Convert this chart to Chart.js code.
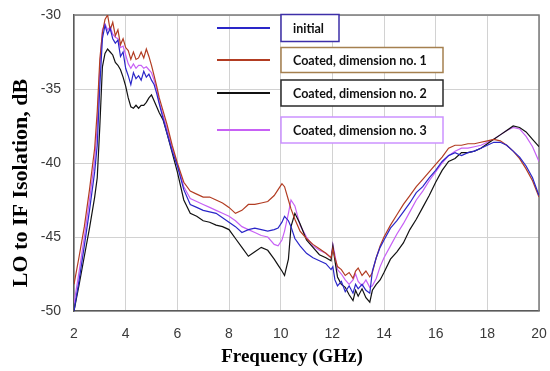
<!DOCTYPE html>
<html>
<head>
<meta charset="utf-8">
<script src="https://cdn.jsdelivr.net/npm/chart.js@4.4.1/dist/chart.umd.min.js"></script>
<style>
html,body{margin:0;padding:0;background:#fff;}
#wrap{width:550px;height:371px;}
</style>
</head>
<body>
<div id="wrap"><canvas id="c" width="550" height="371"></canvas></div>
<script>
const freq = [2.0,2.2,2.4,2.6,2.8,2.9,3.0,3.1,3.2,3.3,3.4,3.5,3.6,3.7,3.8,3.9,4.0,4.1,4.2,4.3,4.4,4.5,4.6,4.7,4.8,4.9,5.0,5.1,5.2,5.3,5.45,5.6,5.8,6.0,6.25,6.5,6.75,7.0,7.25,7.5,7.75,8.0,8.25,8.5,8.75,9.0,9.25,9.5,9.75,9.9,10.05,10.15,10.3,10.4,10.55,10.75,11.0,11.25,11.5,11.75,11.95,12.02,12.1,12.2,12.35,12.5,12.65,12.8,12.9,13.0,13.15,13.3,13.45,13.55,13.7,13.85,14.0,14.25,14.5,14.75,15.0,15.25,15.5,15.75,16.0,16.25,16.5,16.75,17.0,17.25,17.5,17.75,18.0,18.25,18.5,18.75,19.0,19.25,19.5,19.75,20.0];

const initial = [-50.0,-47.9,-45.6,-43.2,-40.6,-38.8,-34.8,-31.6,-30.7,-31.3,-30.9,-31.6,-31.9,-31.7,-32.8,-32.5,-33.6,-34.1,-34.7,-33.9,-34.3,-34.1,-34.4,-33.8,-34.2,-34.0,-34.4,-34.7,-35.3,-36.0,-37.0,-38.0,-39.2,-40.2,-41.8,-42.8,-43.0,-43.2,-43.3,-43.4,-43.7,-44.0,-44.3,-44.7,-44.5,-44.4,-44.5,-44.6,-44.5,-44.4,-44.0,-43.6,-43.9,-44.3,-45.1,-45.6,-46.1,-46.4,-46.6,-46.8,-47.2,-47.0,-47.9,-48.3,-48.0,-48.7,-48.3,-48.8,-48.2,-48.5,-48.2,-48.6,-48.8,-47.3,-46.4,-45.7,-45.2,-44.4,-43.9,-43.3,-42.7,-42.0,-41.6,-41.0,-40.5,-39.9,-39.5,-39.3,-39.5,-39.3,-39.2,-39.0,-38.8,-38.6,-38.6,-38.8,-39.2,-39.6,-40.2,-41.0,-42.2];

const coated1 = [-48.2,-46.3,-44.3,-41.8,-39.0,-36.5,-33.0,-31.2,-30.3,-30.0,-31.0,-30.5,-31.4,-31.0,-32.0,-31.6,-32.2,-32.4,-33.0,-32.5,-33.0,-32.9,-32.5,-32.9,-32.3,-32.8,-33.4,-34.1,-34.8,-35.6,-36.5,-37.4,-38.8,-40.0,-41.3,-41.9,-42.1,-42.3,-42.3,-42.5,-42.7,-43.0,-43.4,-43.2,-42.8,-42.8,-42.7,-42.6,-42.2,-41.8,-41.4,-41.6,-42.5,-43.1,-43.8,-44.6,-45.1,-45.5,-45.8,-46.1,-46.4,-45.8,-46.4,-47.0,-47.2,-47.6,-47.4,-47.8,-47.3,-47.1,-47.6,-47.3,-47.7,-47.4,-46.4,-45.6,-45.0,-44.2,-43.5,-42.8,-42.2,-41.6,-41.1,-40.6,-40.1,-39.6,-39.0,-38.8,-38.8,-38.7,-38.7,-38.6,-38.5,-38.4,-38.5,-38.8,-39.2,-39.7,-40.4,-41.2,-42.3];

const coated2 = [-50.0,-48.2,-46.3,-44.4,-42.3,-41.0,-37.5,-33.5,-32.6,-32.3,-32.5,-32.7,-33.2,-33.4,-33.7,-34.2,-34.8,-35.6,-36.2,-36.3,-36.1,-36.3,-36.1,-36.1,-35.9,-35.6,-35.4,-35.8,-36.2,-36.6,-37.1,-38.0,-39.3,-40.6,-42.5,-43.4,-43.6,-43.9,-44.0,-44.2,-44.3,-44.5,-45.1,-45.7,-46.3,-46.0,-45.7,-45.9,-46.5,-46.9,-47.3,-47.6,-46.5,-44.3,-43.4,-44.1,-45.2,-45.7,-46.2,-46.4,-46.6,-45.6,-46.6,-47.7,-48.2,-48.4,-48.9,-49.3,-48.6,-49.0,-48.5,-49.1,-49.4,-48.6,-48.2,-47.9,-47.4,-46.5,-46.0,-45.4,-44.5,-43.8,-43.0,-42.2,-41.3,-40.5,-39.9,-39.7,-39.3,-39.3,-39.2,-39.0,-38.7,-38.4,-38.1,-37.8,-37.5,-37.6,-37.9,-38.4,-38.9];

const coated3 = [-49.5,-47.3,-45.0,-42.5,-39.8,-37.5,-33.5,-31.0,-30.6,-31.0,-30.8,-31.3,-31.5,-31.6,-32.2,-32.1,-32.7,-33.3,-33.6,-33.3,-33.6,-33.4,-33.4,-33.6,-33.5,-33.7,-33.9,-34.4,-35.0,-35.9,-36.8,-37.7,-39.0,-40.1,-41.6,-42.4,-42.6,-42.8,-43.0,-43.2,-43.4,-43.6,-43.9,-44.3,-44.5,-44.7,-44.9,-45.0,-45.5,-45.6,-45.2,-44.6,-43.4,-42.5,-42.9,-44.2,-45.0,-45.6,-45.9,-46.1,-46.4,-45.5,-46.2,-47.2,-47.5,-47.9,-48.2,-47.9,-47.5,-48.0,-48.3,-47.9,-48.4,-48.3,-47.8,-47.0,-46.4,-45.6,-44.8,-44.1,-43.3,-42.5,-41.9,-41.2,-40.6,-40.0,-39.5,-39.2,-39.0,-39.0,-38.9,-38.8,-38.6,-38.4,-38.1,-37.8,-37.6,-37.7,-38.2,-38.9,-39.9];

const seriesNames = ["initial","Coated, dimension no. 1","Coated, dimension no. 2","Coated, dimension no. 3"];
const xTicks = [2,4,6,8,10,12,14,16,18,20];
const yTicks = [-50,-45,-40,-35,-30];
const xTitle = "Frequency (GHz)";
const yTitle = "LO to IF Isolation, dB";

const lineColors = ['#2a26c8','#b23c22','#111111','#c761f5'];
const boxColors = ['#3d2fa8','#a5804f','#2a2a2a','#cc92ff'];

function pts(v){ return freq.map((f,i)=>({x:f,y:v[i]})); }
const allSeries = [initial, coated1, coated2, coated3];

const decorPlugin = {
  id:'decor',
  beforeDatasetsDraw(chart){
    const {ctx, chartArea:a} = chart;
    ctx.save();
    ctx.strokeStyle = '#7a7a7a';
    ctx.lineWidth = 1.5;
    ctx.beginPath();
    ctx.moveTo(a.left, a.top); ctx.lineTo(a.right, a.top); ctx.lineTo(a.right, a.bottom);
    ctx.stroke();
    ctx.restore();
  },
  afterDraw(chart){
    const {ctx, chartArea:a} = chart;
    ctx.save();
    ctx.fillStyle = '#000';
    ctx.font = 'bold 19px "Liberation Serif", "Times New Roman", serif';
    ctx.textAlign = 'center';
    ctx.textBaseline = 'alphabetic';
    ctx.fillText(xTitle, a.left + 218, 362);
    ctx.save();
    ctx.translate(27, a.top + 168);
    ctx.rotate(-Math.PI/2);
    ctx.font = 'bold 22px "Liberation Serif", "Times New Roman", serif';
    ctx.fillText(yTitle, 0, 0);
    ctx.restore();

    const lineX0 = a.left + 143, lineX1 = a.left + 196;
    const boxX = a.left + 207;
    const lineYs = [a.top + 13, a.top + 45, a.top + 78, a.top + 115];
    const boxW = [58, 162, 162, 162];
    const boxH = [27, 25, 26, 26];
    let fs = 14;
    ctx.font = 'bold ' + fs + 'px Lato, "Open Sans", sans-serif';
    while (fs > 9 && ctx.measureText(seriesNames[1]).width > 136) {
      fs -= 0.5;
      ctx.font = 'bold ' + fs + 'px Lato, "Open Sans", sans-serif';
    }
    for (let i = 0; i < 4; i++) {
      const y = lineYs[i];
      ctx.strokeStyle = lineColors[i];
      ctx.lineWidth = 2;
      ctx.beginPath(); ctx.moveTo(lineX0, y); ctx.lineTo(lineX1, y); ctx.stroke();
      ctx.fillStyle = '#fff';
      const by = y - boxH[i]/2;
      ctx.fillRect(boxX, by, boxW[i], boxH[i]);
      ctx.strokeStyle = boxColors[i];
      ctx.lineWidth = 1.5;
      ctx.strokeRect(boxX, by, boxW[i], boxH[i]);
      ctx.fillStyle = '#111';
      ctx.textAlign = 'left';
      ctx.textBaseline = 'middle';
      ctx.fillText(seriesNames[i], boxX + 12, y + 1);
    }
    ctx.restore();
  }
};

new Chart(document.getElementById('c'), {
  type:'line',
  data:{
    datasets: allSeries.map((s,i)=>({
      label: seriesNames[i],
      data: pts(s),
      borderColor: lineColors[i],
      backgroundColor: lineColors[i],
      borderWidth: 1.2,
      pointRadius: 0,
      tension: 0,
      fill: false
    }))
  },
  options:{
    responsive:false,
    animation:false,
    layout:{padding:{top:15,right:11,left:0,bottom:0}},
    plugins:{legend:{display:false}, tooltip:{enabled:false}},
    scales:{
      x:{
        type:'linear', min:2, max:20,
        afterBuildTicks(s){ s.ticks = xTicks.map(v=>({value:v})); },
        afterFit(s){ s.height = 60; s.paddingLeft = 0; s.paddingRight = 0; },
        grid:{color:'#d2d2d2', lineWidth:1, drawTicks:false},
        border:{color:'#5a5a5a', width:1.5},
        ticks:{padding:15, color:'#3a3a3a', font:{family:'"Liberation Sans", Arial, sans-serif', size:14}, maxRotation:0}
      },
      y:{
        min:-50, max:-30,
        afterBuildTicks(s){ s.ticks = yTicks.map(v=>({value:v})); },
        afterFit(s){ s.width = 74; s.paddingTop = 0; s.paddingBottom = 0; },
        grid:{color:'#d2d2d2', lineWidth:1, drawTicks:false},
        border:{color:'#5a5a5a', width:1.5},
        ticks:{padding:13, color:'#3a3a3a', font:{family:'"Liberation Sans", Arial, sans-serif', size:14}}
      }
    }
  },
  plugins:[decorPlugin]
});
</script>
</body>
</html>
